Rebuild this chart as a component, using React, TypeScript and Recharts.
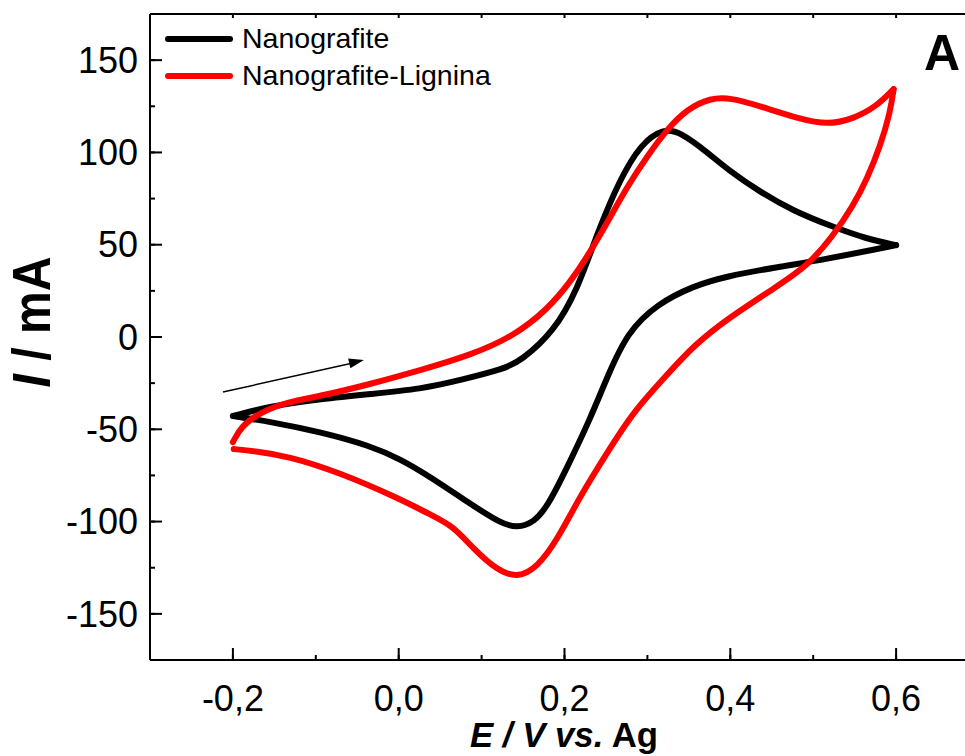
import { LineChart, Line, XAxis, YAxis, Legend, ReferenceLine, ReferenceDot, Label } from "recharts";

// Cyclic voltammograms: potential E (V vs. Ag) and current I (mA)
// each loop is split at its switching potentials so the vertices stay sharp
const ngForwardE = [-0.2, -0.154, -0.094, -0.034, 0.027, 0.075, 0.127, 0.147, 0.187, 0.216, 0.24, 0.267, 0.292, 0.319, 0.34, 0.372, 0.396, 0.436, 0.476, 0.524, 0.565, 0.6];
const ngForwardI = [-42.8, -37.4, -33.6, -30.9, -28.2, -23.3, -17.3, -13.0, 2.7, 26.0, 56.9, 85.6, 104.5, 113.0, 111.0, 100.2, 91.0, 78.5, 68.3, 59.6, 53.1, 49.8];
const ngReverseE = [0.6, 0.577, 0.517, 0.457, 0.396, 0.355, 0.312, 0.276, 0.252, 0.231, 0.204, 0.18, 0.163, 0.143, 0.123, 0.083, 0.042, 0.002, -0.034, -0.094, -0.154, -0.2];
const ngReverseI = [49.8, 47.7, 42.3, 37.9, 33.0, 27.6, 17.9, 2.7, -21.1, -44.4, -69.9, -91.5, -100.5, -103.5, -101.0, -89.4, -76.9, -66.1, -59.0, -51.5, -46.0, -42.8];

const nglForwardE = [-0.2, -0.19, -0.166, -0.134, -0.094, -0.034, 0.027, 0.087, 0.139, 0.18, 0.207, 0.228, 0.252, 0.276, 0.3, 0.324, 0.348, 0.376, 0.4, 0.436, 0.484, 0.517, 0.548, 0.577, 0.597];
const nglForwardI = [-57.0, -48.2, -40.6, -35.2, -32.0, -25.5, -17.9, -9.8, 0.5, 15.2, 29.8, 43.9, 62.3, 81.8, 98.1, 112.7, 123.5, 129.5, 129.7, 125.1, 118.1, 115.0, 118.1, 125.1, 134.3];
const nglReverseE = [0.597, 0.593, 0.581, 0.565, 0.548, 0.524, 0.493, 0.457, 0.396, 0.355, 0.319, 0.283, 0.252, 0.219, 0.192, 0.167, 0.143, 0.119, 0.09, 0.066, 0.037, 0.002, -0.073, -0.134, -0.175, -0.199];
const nglReverseI = [134.3, 121.9, 103.5, 85.6, 71.0, 54.7, 38.5, 27.6, 9.8, -4.9, -22.8, -40.6, -62.3, -86.1, -109.4, -125.0, -130.5, -126.5, -114.8, -102.4, -96.0, -87.8, -73.1, -64.5, -61.8, -60.7];

const seriesNames = ["Nanografite", "Nanografite-Lignina"];
const seriesColors = ["#000000", "#ff0000"];

const eTicks = [-0.2, 0, 0.2, 0.4, 0.6];
const eMinorTicks = [-0.3, -0.2, -0.1, 0, 0.1, 0.2, 0.3, 0.4, 0.5, 0.6, 0.7];
const iTicks = [-150, -100, -50, 0, 50, 100, 150];
const iMinorTicks = [-175, -150, -125, -100, -75, -50, -25, 0, 25, 50, 75, 100, 125, 150, 175];

// scan direction arrow (tail, end of shaft, tip)
const arrowTail = { x: -0.212, y: -29.8 };
const arrowBase = { x: -0.058, y: -14.4 };
const arrowTip = { x: -0.042, y: -12.5 };

const FONT = '"Liberation Sans", Arial, Helvetica, sans-serif';
const E_DOMAIN: [number, number] = [-0.3, 0.7];
const I_DOMAIN: [number, number] = [-175, 175];

const toPoints = (e: number[], i: number[]) => e.map((v, k) => ({ e: v, i: i[k] }));
const fmtE = (v: number) => v.toFixed(1).replace(".", ",").replace("-0,0", "0,0");

// tick lines only, no text (used by the inward-facing frame axes)
const NoText = () => <g />;

function ArrowHead(props: any) {
  const { cx, cy } = props;
  const a = (-12.8 * Math.PI) / 180;
  const len = 15;
  const half = 5;
  const bx = cx - len * Math.cos(a);
  const by = cy - len * Math.sin(a);
  const nx = -Math.sin(a) * half;
  const ny = Math.cos(a) * half;
  return <polygon points={`${cx},${cy} ${bx + nx},${by + ny} ${bx - nx},${by - ny}`} fill="#000" />;
}

function LegendBox() {
  return (
    <div style={{ fontFamily: FONT, fontSize: 28.5, color: "#000" }}>
      {seriesNames.map((name, k) => (
        <div key={name} style={{ display: "flex", alignItems: "center", height: 37 }}>
          <span style={{ display: "inline-block", width: 68, height: 6, borderRadius: 3, background: seriesColors[k], marginRight: 9 }} />
          <span>{name}</span>
        </div>
      ))}
    </div>
  );
}

export default function App() {
  const axisLine = { stroke: "#000", strokeWidth: 2 };
  const tickLine = { stroke: "#000", strokeWidth: 2 };
  const curve = { type: "basis" as const, strokeWidth: 6, strokeLinecap: "round" as const, strokeLinejoin: "round" as const, dot: false, isAnimationActive: false };
  return (
    <div style={{ position: "absolute", left: 0, top: 0, width: 965, height: 756, overflow: "hidden", background: "#fff" }}>
      <LineChart width={1000} height={756} margin={{ top: 14, right: 21, bottom: 36, left: 70 }}>
        <XAxis
          xAxisId="e" type="number" dataKey="e" domain={E_DOMAIN} ticks={eTicks} tickFormatter={fmtE}
          allowDataOverflow height={60} tickLine={false} tickSize={0} tickMargin={25} axisLine={axisLine}
          tick={{ fontSize: 36, fill: "#000", fontFamily: FONT }}
        >
          <Label
            content={() => (
              <text x={564} y={747} textAnchor="middle" fontFamily={FONT} fontSize={35} fontWeight="bold" fill="#000" textLength={188} lengthAdjust="spacingAndGlyphs">
                <tspan fontStyle="italic">E / V vs.</tspan>
                <tspan> Ag</tspan>
              </text>
            )}
          />
        </XAxis>
        <XAxis xAxisId="eMajor" type="number" dataKey="e" domain={E_DOMAIN} ticks={eTicks} allowDataOverflow mirror height={1} tick={NoText} tickSize={12} tickLine={tickLine} axisLine={false} />
        <XAxis xAxisId="eMinor" type="number" dataKey="e" domain={E_DOMAIN} ticks={eMinorTicks} allowDataOverflow mirror height={1} tick={NoText} tickSize={4} tickLine={tickLine} axisLine={false} />
        <XAxis xAxisId="eTop" orientation="top" type="number" dataKey="e" domain={E_DOMAIN} ticks={eMinorTicks} allowDataOverflow mirror height={1} tick={NoText} tickSize={4} tickLine={tickLine} axisLine={axisLine}>
          <Label
            content={() => (
              <text x={924} y={70} fontFamily={FONT} fontSize={50} fontWeight="bold" fill="#000">A</text>
            )}
          />
        </XAxis>

        <YAxis
          yAxisId="i" type="number" domain={I_DOMAIN} ticks={iTicks} allowDataOverflow width={80}
          tickLine={false} tickSize={0} tickMargin={12} axisLine={axisLine}
          tick={{ fontSize: 36, fill: "#000", fontFamily: FONT }}
        >
          <Label
            content={() => (
              <text x={50} y={322} transform="rotate(-90, 50, 322)" textAnchor="middle" fontFamily={FONT} fontSize={54} fontWeight="bold" fill="#000" textLength={131} lengthAdjust="spacingAndGlyphs">
                <tspan fontStyle="italic">I</tspan>
                <tspan> / mA</tspan>
              </text>
            )}
          />
        </YAxis>
        <YAxis yAxisId="iMajor" type="number" domain={I_DOMAIN} ticks={iTicks} allowDataOverflow mirror width={1} tick={NoText} tickSize={12} tickLine={tickLine} axisLine={false} />
        <YAxis yAxisId="iMinor" type="number" domain={I_DOMAIN} ticks={iMinorTicks} allowDataOverflow mirror width={1} tick={NoText} tickSize={4} tickLine={tickLine} axisLine={false} />
        <YAxis yAxisId="iRight" orientation="right" type="number" domain={I_DOMAIN} ticks={iTicks} allowDataOverflow mirror width={1} tick={NoText} tickSize={12} tickLine={tickLine} axisLine={axisLine} />

        <Legend layout="vertical" verticalAlign="middle" align="center" wrapperStyle={{ left: 165, top: 20, width: "auto", height: "auto" }} content={() => <LegendBox />} />

        <Line xAxisId="e" yAxisId="i" data={toPoints(ngForwardE, ngForwardI)} dataKey="i" stroke={seriesColors[0]} {...curve} />
        <Line xAxisId="e" yAxisId="i" data={toPoints(ngReverseE, ngReverseI)} dataKey="i" stroke={seriesColors[0]} {...curve} />
        <Line xAxisId="e" yAxisId="i" data={toPoints(nglForwardE, nglForwardI)} dataKey="i" stroke={seriesColors[1]} {...curve} />
        <Line xAxisId="e" yAxisId="i" data={toPoints(nglReverseE, nglReverseI)} dataKey="i" stroke={seriesColors[1]} {...curve} />

        <ReferenceLine xAxisId="e" yAxisId="i" segment={[arrowTail, arrowBase]} stroke="#000" strokeWidth={1.5} />
        <ReferenceDot xAxisId="e" yAxisId="i" x={arrowTip.x} y={arrowTip.y} r={1} shape={<ArrowHead />} />
      </LineChart>
    </div>
  );
}
